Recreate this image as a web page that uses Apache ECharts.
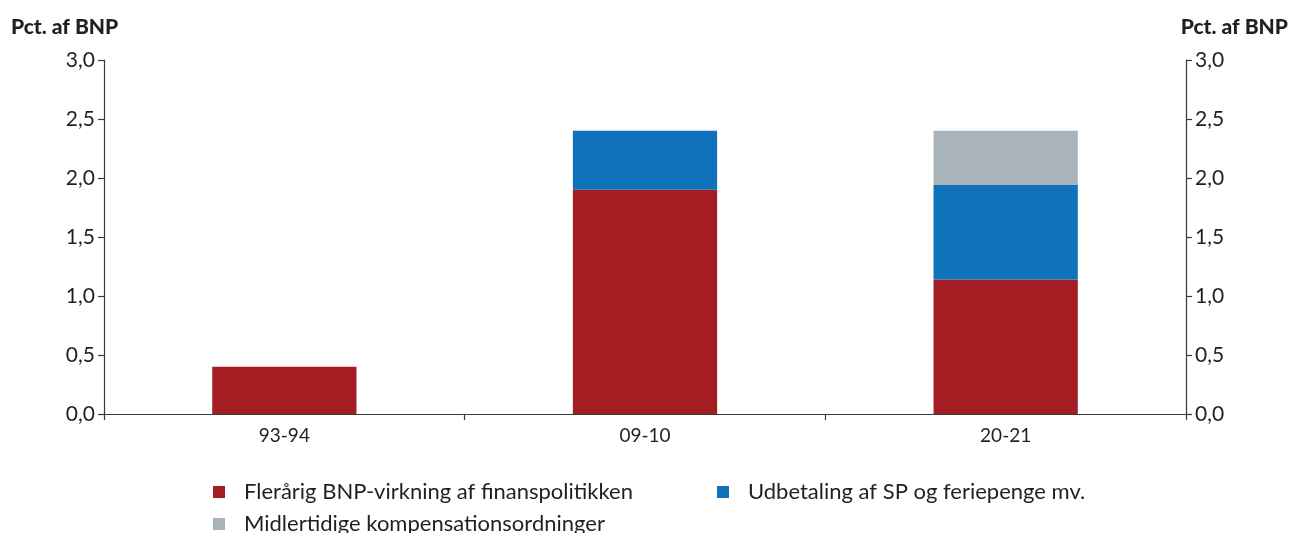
<!DOCTYPE html>
<html>
<head>
<meta charset="utf-8">
<script src="https://cdn.jsdelivr.net/npm/echarts@6/dist/echarts.min.js"></script>
<style>
  html, body { margin: 0; padding: 0; background: #fff; }
  #chart { width: 1296px; height: 533px; }
</style>
</head>
<body>
<div id="chart"></div>
<script>
// kategorier og værdier (pct. af BNP)
const categories = ['93-94', '09-10', '20-21']
const finanspolitik = [0.4, 1.9, 1.14]
const udbetaling = [0, 0.5, 0.8]
const kompensation = [0, 0, 0.46]
const seriesNames = [
  'Flerårig BNP-virkning af finanspolitikken',
  'Udbetaling af SP og feriepenge mv.',
  'Midlertidige kompensationsordninger'
]
const colors = ['#A31D22', '#1072BA', '#A8B3BA']

const font = 'Lato, "Noto Sans", sans-serif'
const axisColor = '#3a3a3a'
const textColor = '#231F20'

const chart = echarts.init(document.getElementById('chart'))

function valueAxis(position) {
  return {
    type: 'value',
    position: position,
    min: 0,
    max: 3,
    interval: 0.5,
    splitLine: {show: false},
    axisLine: {show: true, lineStyle: {color: axisColor, width: 1.2}},
    axisTick: {show: true, length: 6, lineStyle: {color: axisColor, width: 1.2}},
    axisLabel: {
      color: textColor,
      fontSize: 21,
      fontFamily: font,
      margin: 9,
      formatter: v => v.toFixed(1).replace('.', ',')
    }
  }
}

function legend(name, left, top) {
  return {
    data: [name],
    left: left,
    top: top,
    itemWidth: 12,
    itemHeight: 12,
    icon: 'rect',
    itemGap: 0,
    textStyle: {fontSize: 22, fontFamily: font, color: textColor, padding: [0, 0, 0, 14]}
  }
}

const titleStyle = {fontSize: 21, fontWeight: 900, fontFamily: font, color: textColor}

const option = {
  animation: false,
  color: colors,
  grid: {left: 104, right: 110, top: 60, bottom: 119},
  title: [
    {text: 'Pct. af BNP', left: 6, top: 12, textStyle: titleStyle},
    {text: 'Pct. af BNP', right: 3, top: 12, textStyle: titleStyle}
  ],
  legend: [
    legend(seriesNames[0], 208, 476),
    legend(seriesNames[1], 712, 476),
    legend(seriesNames[2], 208, 508)
  ],
  xAxis: {
    type: 'category',
    data: categories,
    axisLine: {lineStyle: {color: axisColor, width: 1.2}},
    axisTick: {show: true, length: 6, lineStyle: {color: axisColor, width: 1.2}},
    axisLabel: {color: textColor, fontSize: 19, fontFamily: font, margin: 12}
  },
  yAxis: [valueAxis('left'), valueAxis('right')],
  series: [
    {name: seriesNames[0], type: 'bar', stack: 'a', barWidth: '40%', data: finanspolitik},
    {name: seriesNames[1], type: 'bar', stack: 'a', barWidth: '40%', data: udbetaling},
    {name: seriesNames[2], type: 'bar', stack: 'a', barWidth: '40%', data: kompensation}
  ]
}

chart.setOption(option)
</script>
</body>
</html>
